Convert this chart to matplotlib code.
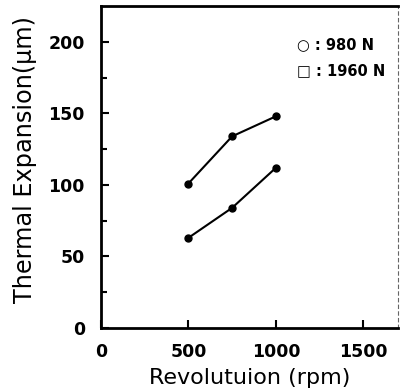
import numpy as np
import matplotlib.pyplot as plt

# Data
rpm = [500, 750, 1000]
exp_980 = [63, 84, 112]
exp_1960 = [101, 134, 148]

xticks = [0, 500, 1000, 1500]
yticks = [0, 50, 100, 150, 200]

fig = plt.figure(figsize=(4.02, 3.89), dpi=100)
ax = fig.add_axes([0.251, 0.157, 0.740, 0.827])

ax.plot(rpm, exp_980, "k-", marker="o", markersize=5, linewidth=1.5)
ax.plot(rpm, exp_1960, "k-", marker="o", markersize=5, linewidth=1.5)

ax.set_xlim(0, 1700)
ax.set_ylim(0, 225)
ax.set_xticks(xticks)
ax.set_yticks(yticks)
ax.set_yticks([25, 75, 125, 175], minor=True)
ax.tick_params(which="both", direction="in", length=6, width=1.5, labelsize=12.5)
ax.tick_params(axis="y", pad=11.5)
ax.tick_params(axis="x", pad=11)
ax.tick_params(which="minor", length=4)
for lab in ax.get_xticklabels() + ax.get_yticklabels():
    lab.set_fontweight("bold")

for side in ["left", "bottom", "top"]:
    ax.spines[side].set_linewidth(2)
ax.spines["right"].set_linewidth(0.8)
ax.spines["right"].set_linestyle((0, (3, 3)))
ax.spines["right"].set_color("0.4")

ax.set_xlabel("Revolutuion (rpm)", fontsize=16, labelpad=5)
ax.set_ylabel("Thermal Expansion(\u03bcm)", fontsize=17.3)
ax.yaxis.set_label_coords(-0.215, 0.522)

ax.text(1120, 198, "\u25cb : 980 N", fontsize=10.5, fontweight="bold", va="center")
ax.text(1120, 180, "\u25a1 : 1960 N", fontsize=10.5, fontweight="bold", va="center")

fig.savefig("out.png", dpi=100)
